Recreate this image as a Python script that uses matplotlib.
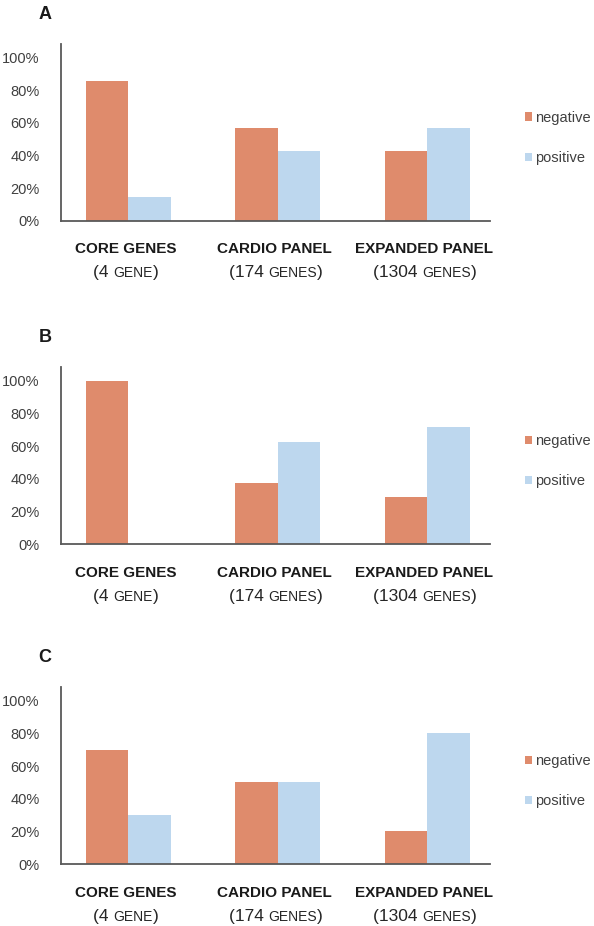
import matplotlib
matplotlib.use("Agg")
import matplotlib.pyplot as plt
from matplotlib.offsetbox import TextArea, HPacker, AnnotationBbox
import numpy as np

plt.rcParams['font.family'] = ['Liberation Sans', 'DejaVu Sans']

# data (percent of cases)
categories = ["CORE GENES", "CARDIO PANEL", "EXPANDED PANEL"]
gene_counts = ["4", "174", "1304"]
gene_units = ["GENE", "GENES", "GENES"]
series_names = ["negative", "positive"]

neg_a = [85.7, 57.1, 42.9]
pos_a = [14.3, 42.9, 57.1]
neg_b = [100.0, 37.5, 28.6]
pos_b = [0.0, 62.5, 71.4]
neg_c = [70.0, 50.0, 20.0]
pos_c = [30.0, 50.0, 80.0]

panel_letters = ["A", "B", "C"]
yticks = [0, 20, 40, 60, 80, 100]

c_neg = "#DF8B6C"
c_pos = "#BDD7EE"
c_axis = "#595959"
c_text = "#404040"

W, H = 594, 926
fig = plt.figure(figsize=(W / 100, H / 100), dpi=100)

# pixel layout: baseline y of each panel
baselines = [220.7, 544.0, 864.0]
letter_base = [19.3, 341.7, 661.7]
px_per_unit = 163.2 / 100.0
ymax = 108.5
ax_left, ax_right = 61, 490

x = np.arange(len(categories))
bw = 0.284

panels = [(neg_a, pos_a), (neg_b, pos_b), (neg_c, pos_c)]

for i, (neg, pos) in enumerate(panels):
    base = baselines[i]
    h = ymax * px_per_unit
    ax = fig.add_axes([ax_left / W, (H - base) / H, (ax_right - ax_left) / W, h / H])
    b1 = ax.bar(x - bw / 2, neg, bw, color=c_neg, label=series_names[0])
    b2 = ax.bar(x + bw / 2, pos, bw, color=c_pos, label=series_names[1])
    ax.set_ylim(0, ymax)
    ax.set_xlim(-0.45, 2.419)
    ax.set_yticks(yticks)
    ax.set_yticklabels([f"{t}%" for t in yticks], fontsize=10.5, color=c_text)
    ax.tick_params(axis='y', length=0, pad=15.5)
    ax.set_xticks([])
    for s in ["top", "right"]:
        ax.spines[s].set_visible(False)
    for s in ["left", "bottom"]:
        ax.spines[s].set_color(c_axis)
        ax.spines[s].set_linewidth(1.3)

    # category labels
    for j, cat in enumerate(categories):
        ax.annotate(cat, (x[j] - 0.02, 0), xycoords=('data', 'axes fraction'),
                    xytext=(0, -23.5), textcoords='offset points',
                    ha='center', va='baseline', fontsize=11, fontweight='bold',
                    color='#1a1a1a')
        parts = HPacker(children=[
            TextArea("(" + gene_counts[j] + " ", textprops=dict(size=12.5, color='#262626')),
            TextArea(gene_units[j], textprops=dict(size=10, color='#262626')),
            TextArea(")", textprops=dict(size=12.5, color='#262626')),
        ], align="baseline", pad=0, sep=0)
        ab = AnnotationBbox(parts, (x[j] - 0.015, 0), xycoords=('data', 'axes fraction'),
                            xybox=(0, -43), boxcoords='offset points',
                            frameon=False, box_alignment=(0.5, 0), pad=0)
        ax.add_artist(ab)

    # legend
    leg_top = base - 110.0
    ax.legend(handles=[b1, b2], loc='upper left',
              bbox_to_anchor=(525 / W, (H - leg_top) / H), bbox_transform=fig.transFigure,
              frameon=False, fontsize=10.5, handlelength=0.5, handleheight=0.5,
              handletextpad=0.2, labelspacing=1.8, borderpad=0, borderaxespad=0,
              labelcolor=c_text)

    fig.text(44.8 / W, (H - letter_base[i]) / H, panel_letters[i], ha='center',
             va='baseline', fontsize=13, fontweight='bold', color='#1a1a1a')

fig.savefig("out.png", dpi=100)
